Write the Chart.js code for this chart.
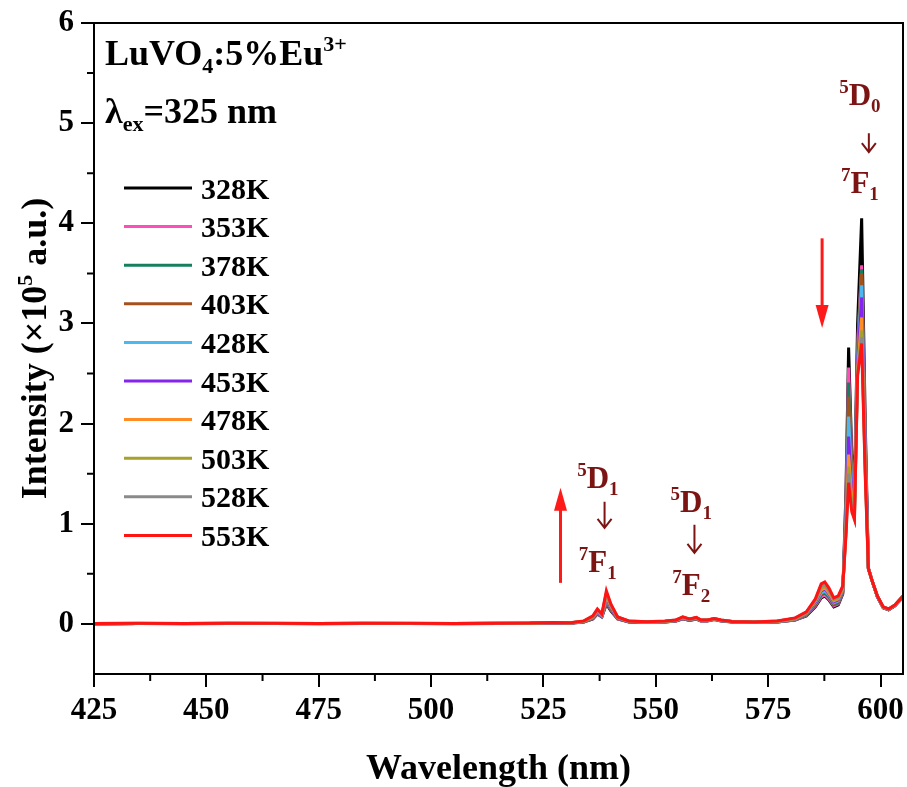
<!DOCTYPE html>
<html lang="en">
<head>
    <meta charset="UTF-8">
    <title>LuVO4:5%Eu3+ emission spectra</title>
    <style>
        body { margin: 0; padding: 0; background: #fff; }
        #chart { display: block; }
    </style>
</head>
<body>
    <canvas id="chart" width="907" height="787"></canvas>
    <script src="https://cdn.jsdelivr.net/npm/chart.js@4.4.1/dist/chart.umd.min.js"></script>
    <script>
        // wavelength grid (nm), shared by every temperature
        const wavelength = [425, 435, 445, 455, 465, 475, 485, 495, 505, 515,
            522, 527, 531, 534, 536, 537, 538, 539, 540, 541.5,
            544, 548, 552, 554.5, 556, 557.5, 559, 560, 561.5, 563,
            564.5, 567, 572, 577, 581, 583.5, 585.5, 586.8, 587.6, 588.5,
            589.6, 590.6, 591.6, 592.3, 592.9, 593.6, 594.2, 594.9, 595.8, 596.6,
            597.3, 598.2, 599.3, 600.6, 601.8, 603.2, 605];

        // intensity (x10^5 a.u.) per temperature
        const i328 = [0.000, 0.003, 0.002, 0.004, 0.003, 0.002, 0.004, 0.003, 0.002, 0.004,
            0.005, 0.008, 0.007, 0.018, 0.050, 0.100, 0.070, 0.200, 0.130, 0.050,
            0.020, 0.014, 0.018, 0.028, 0.050, 0.034, 0.048, 0.030, 0.030, 0.044,
            0.030, 0.018, 0.014, 0.018, 0.038, 0.080, 0.170, 0.260, 0.280, 0.240,
            0.170, 0.190, 0.300, 1.300, 2.760, 1.700, 1.350, 3.000, 4.050, 2.000,
            0.560, 0.420, 0.270, 0.160, 0.140, 0.180, 0.270];
        const i353 = [0.001, 0.003, 0.003, 0.004, 0.003, 0.003, 0.004, 0.003, 0.003, 0.004,
            0.005, 0.009, 0.008, 0.020, 0.055, 0.105, 0.072, 0.210, 0.140, 0.050,
            0.021, 0.015, 0.019, 0.030, 0.052, 0.036, 0.050, 0.032, 0.032, 0.046,
            0.032, 0.019, 0.015, 0.019, 0.040, 0.085, 0.180, 0.270, 0.290, 0.250,
            0.180, 0.200, 0.310, 1.220, 2.560, 1.620, 1.300, 2.800, 3.580, 1.900,
            0.560, 0.420, 0.270, 0.160, 0.140, 0.180, 0.270];
        const i378 = [0.001, 0.004, 0.003, 0.004, 0.004, 0.003, 0.004, 0.004, 0.003, 0.005,
            0.006, 0.010, 0.008, 0.021, 0.058, 0.110, 0.075, 0.220, 0.145, 0.055,
            0.022, 0.016, 0.020, 0.031, 0.054, 0.038, 0.052, 0.033, 0.033, 0.048,
            0.033, 0.020, 0.016, 0.020, 0.042, 0.090, 0.190, 0.290, 0.310, 0.270,
            0.190, 0.210, 0.320, 1.150, 2.410, 1.550, 1.250, 2.750, 3.540, 1.850,
            0.555, 0.420, 0.272, 0.162, 0.142, 0.182, 0.272];
        const i403 = [0.001, 0.004, 0.003, 0.005, 0.004, 0.003, 0.005, 0.004, 0.003, 0.005,
            0.006, 0.011, 0.009, 0.022, 0.060, 0.115, 0.078, 0.230, 0.150, 0.055,
            0.023, 0.017, 0.021, 0.032, 0.056, 0.040, 0.054, 0.034, 0.034, 0.049,
            0.034, 0.021, 0.017, 0.021, 0.044, 0.095, 0.200, 0.300, 0.320, 0.280,
            0.200, 0.220, 0.330, 1.100, 2.270, 1.480, 1.200, 2.700, 3.500, 1.800,
            0.555, 0.420, 0.274, 0.164, 0.144, 0.184, 0.274];
        const i428 = [0.002, 0.004, 0.004, 0.005, 0.004, 0.004, 0.005, 0.004, 0.004, 0.005,
            0.006, 0.012, 0.009, 0.024, 0.065, 0.120, 0.080, 0.245, 0.160, 0.060,
            0.024, 0.018, 0.022, 0.034, 0.058, 0.042, 0.056, 0.035, 0.035, 0.050,
            0.035, 0.022, 0.018, 0.022, 0.046, 0.100, 0.210, 0.310, 0.330, 0.290,
            0.210, 0.230, 0.340, 1.040, 2.070, 1.400, 1.170, 2.650, 3.380, 1.750,
            0.552, 0.420, 0.275, 0.165, 0.145, 0.185, 0.275];
        const i453 = [0.002, 0.005, 0.004, 0.005, 0.005, 0.004, 0.005, 0.005, 0.004, 0.006,
            0.007, 0.012, 0.010, 0.025, 0.068, 0.125, 0.083, 0.260, 0.165, 0.060,
            0.025, 0.019, 0.023, 0.035, 0.060, 0.044, 0.058, 0.036, 0.036, 0.051,
            0.036, 0.023, 0.018, 0.023, 0.048, 0.105, 0.220, 0.330, 0.350, 0.300,
            0.220, 0.240, 0.350, 0.980, 1.870, 1.330, 1.140, 2.600, 3.260, 1.700,
            0.552, 0.420, 0.276, 0.166, 0.146, 0.186, 0.276];
        const i478 = [0.002, 0.005, 0.004, 0.006, 0.005, 0.004, 0.006, 0.005, 0.004, 0.006,
            0.007, 0.013, 0.010, 0.026, 0.070, 0.130, 0.086, 0.275, 0.175, 0.065,
            0.026, 0.020, 0.024, 0.036, 0.062, 0.046, 0.060, 0.037, 0.037, 0.052,
            0.037, 0.024, 0.019, 0.024, 0.050, 0.110, 0.230, 0.340, 0.360, 0.310,
            0.230, 0.250, 0.350, 0.950, 1.690, 1.260, 1.110, 2.550, 3.060, 1.620,
            0.550, 0.420, 0.277, 0.167, 0.147, 0.187, 0.277];
        const i503 = [0.002, 0.005, 0.005, 0.006, 0.005, 0.005, 0.006, 0.005, 0.005, 0.006,
            0.007, 0.014, 0.011, 0.027, 0.073, 0.135, 0.090, 0.290, 0.180, 0.065,
            0.027, 0.020, 0.025, 0.037, 0.065, 0.047, 0.062, 0.038, 0.038, 0.053,
            0.038, 0.024, 0.019, 0.026, 0.054, 0.112, 0.235, 0.360, 0.380, 0.330,
            0.240, 0.260, 0.360, 0.920, 1.570, 1.200, 1.090, 2.520, 2.930, 1.560,
            0.550, 0.420, 0.278, 0.168, 0.148, 0.188, 0.278];
        const i528 = [0.003, 0.006, 0.005, 0.006, 0.006, 0.005, 0.006, 0.006, 0.005, 0.007,
            0.008, 0.014, 0.011, 0.028, 0.076, 0.140, 0.095, 0.310, 0.190, 0.070,
            0.028, 0.021, 0.027, 0.038, 0.067, 0.048, 0.063, 0.039, 0.039, 0.054,
            0.039, 0.025, 0.020, 0.028, 0.057, 0.115, 0.240, 0.380, 0.400, 0.340,
            0.250, 0.270, 0.370, 0.900, 1.500, 1.160, 1.060, 2.500, 2.860, 1.520,
            0.550, 0.420, 0.279, 0.169, 0.149, 0.189, 0.279];
        const i553 = [0.003, 0.006, 0.005, 0.007, 0.006, 0.005, 0.007, 0.006, 0.005, 0.007,
            0.008, 0.015, 0.012, 0.030, 0.080, 0.150, 0.100, 0.330, 0.200, 0.070,
            0.030, 0.022, 0.030, 0.040, 0.070, 0.050, 0.065, 0.040, 0.040, 0.055,
            0.040, 0.025, 0.020, 0.030, 0.060, 0.120, 0.250, 0.400, 0.420, 0.360,
            0.260, 0.280, 0.380, 0.880, 1.410, 1.120, 1.040, 2.480, 2.800, 1.480,
            0.550, 0.420, 0.280, 0.170, 0.150, 0.190, 0.280];

        const temps = ['328K', '353K', '378K', '403K', '428K', '453K', '478K', '503K', '528K', '553K'];
        const series = [i328, i353, i378, i403, i428, i453, i478, i503, i528, i553];
        const lineColors = ['#000000', '#ff4db8', '#14805e', '#a4521c', '#4db8f0',
            '#8424ee', '#ff8c24', '#a8a02c', '#8a8a8a', '#ff1414'];

        const xMajor = [425, 450, 475, 500, 525, 550, 575, 600];
        const xMinor = [437.5, 462.5, 487.5, 512.5, 537.5, 562.5, 587.5];
        const yMajor = [0, 1, 2, 3, 4, 5, 6];
        const yMinor = [0.5, 1.5, 2.5, 3.5, 4.5, 5.5];

        // transition labels: upper level, arrow, lower level (data coordinates)
        const transX = [537.1, 557.9, 595.4];
        const transUpper = [
            [['5', 'sup'], ['D', 'n'], ['1', 'sub']],
            [['5', 'sup'], ['D', 'n'], ['1', 'sub']],
            [['5', 'sup'], ['D', 'n'], ['0', 'sub']]
        ];
        const transLower = [
            [['7', 'sup'], ['F', 'n'], ['1', 'sub']],
            [['7', 'sup'], ['F', 'n'], ['2', 'sub']],
            [['7', 'sup'], ['F', 'n'], ['1', 'sub']]
        ];
        const transUpperY = [1.36, 1.12, 5.18];
        const transLowerY = [0.52, 0.29, 4.30];
        const transArrowX = [538.6, 558.6, 597.4];
        const transArrowTop = [1.22, 0.99, 4.90];
        const transArrowBottom = [0.96, 0.71, 4.71];

        // red trend arrows
        const trendX = [528.8, 587.0];
        const trendFrom = [0.41, 3.85];
        const trendTo = [1.36, 2.955];

        const FONT = '"Liberation Serif", "Times New Roman", serif';
        const DARKRED = '#7c1414';

        function fontFor(kind, size) {
            const s = kind === 'n' ? size : Math.round(size * 0.62);
            return 'bold ' + s + 'px ' + FONT;
        }

        function drawRich(ctx, segs, x, y, size, align) {
            let w = 0;
            segs.forEach(([t, k]) => { ctx.font = fontFor(k, size); w += ctx.measureText(t).width; });
            let cx = align === 'center' ? x - w / 2 : x;
            ctx.textAlign = 'left';
            ctx.textBaseline = 'alphabetic';
            segs.forEach(([t, k]) => {
                ctx.font = fontFor(k, size);
                const dy = k === 'sup' ? -0.38 * size : (k === 'sub' ? 0.22 * size : 0);
                ctx.fillText(t, cx, y + dy);
                cx += ctx.measureText(t).width;
            });
        }

        function drawArrowDown(ctx, x, y1, y2, color) {
            ctx.strokeStyle = color;
            ctx.lineWidth = 2;
            ctx.beginPath();
            ctx.moveTo(x, y1);
            ctx.lineTo(x, y2);
            ctx.moveTo(x - 7, y2 - 9);
            ctx.lineTo(x, y2);
            ctx.lineTo(x + 7, y2 - 9);
            ctx.stroke();
        }

        function drawTrendArrow(ctx, x, yFrom, yTo) {
            const dir = yTo < yFrom ? 1 : -1; // 1 = pointing up on screen
            const head = 23;
            ctx.strokeStyle = '#ff1a1a';
            ctx.fillStyle = '#ff1a1a';
            ctx.lineWidth = 3;
            ctx.beginPath();
            ctx.moveTo(x, yFrom);
            ctx.lineTo(x, yTo + dir * head * 0.8);
            ctx.stroke();
            ctx.beginPath();
            ctx.moveTo(x, yTo);
            ctx.lineTo(x - 6.5, yTo + dir * head);
            ctx.lineTo(x + 6.5, yTo + dir * head);
            ctx.closePath();
            ctx.fill();
        }

        const decorations = {
            id: 'decorations',
            afterDraw(chart) {
                const ctx = chart.ctx;
                const xs = chart.scales.x;
                const ys = chart.scales.y;
                const area = chart.chartArea;
                ctx.save();

                // frame
                ctx.strokeStyle = '#000';
                ctx.lineWidth = 2;
                ctx.strokeRect(area.left, area.top, area.right - area.left, area.bottom - area.top);

                // minor ticks
                ctx.beginPath();
                xMinor.forEach(v => {
                    const px = xs.getPixelForValue(v);
                    ctx.moveTo(px, area.bottom);
                    ctx.lineTo(px, area.bottom + 7);
                });
                yMinor.forEach(v => {
                    const py = ys.getPixelForValue(v);
                    ctx.moveTo(area.left, py);
                    ctx.lineTo(area.left - 7, py);
                });
                ctx.stroke();

                // axis titles
                ctx.fillStyle = '#000';
                ctx.font = 'bold 36px ' + FONT;
                ctx.textAlign = 'center';
                ctx.textBaseline = 'alphabetic';
                ctx.fillText('Wavelength (nm)', (area.left + area.right) / 2, 779);

                ctx.save();
                ctx.translate(46, (area.top + area.bottom) / 2);
                ctx.rotate(-Math.PI / 2);
                drawRich(ctx, [['Intensity (\u00d710', 'n'], ['5', 'sup'], [' a.u.)', 'n']], 0, 0, 36, 'center');
                ctx.restore();

                // sample info
                drawRich(ctx, [['LuVO', 'n'], ['4', 'sub'], [':5%Eu', 'n'], ['3+', 'sup']], 105, 65, 36, 'left');
                drawRich(ctx, [['\u03bb', 'n'], ['ex', 'sub'], ['=325 nm', 'n']], 105, 123, 36, 'left');

                // legend
                chart.data.datasets.forEach((ds, i) => {
                    const y = 188 + i * 38.6;
                    ctx.strokeStyle = ds.borderColor;
                    ctx.lineWidth = 3;
                    ctx.beginPath();
                    ctx.moveTo(124, y);
                    ctx.lineTo(192, y);
                    ctx.stroke();
                    ctx.fillStyle = '#000';
                    ctx.font = 'bold 30px ' + FONT;
                    ctx.textAlign = 'left';
                    ctx.textBaseline = 'alphabetic';
                    ctx.fillText(ds.label, 201, y + 10.5);
                });

                // transition labels
                ctx.fillStyle = DARKRED;
                transX.forEach((v, i) => {
                    const px = xs.getPixelForValue(v);
                    drawRich(ctx, transUpper[i], px, ys.getPixelForValue(transUpperY[i]), 31, 'center');
                    drawRich(ctx, transLower[i], px, ys.getPixelForValue(transLowerY[i]), 31, 'center');
                    drawArrowDown(ctx, xs.getPixelForValue(transArrowX[i]),
                        ys.getPixelForValue(transArrowTop[i]), ys.getPixelForValue(transArrowBottom[i]), DARKRED);
                });

                // trend arrows
                trendX.forEach((v, i) => {
                    drawTrendArrow(ctx, xs.getPixelForValue(v), ys.getPixelForValue(trendFrom[i]), ys.getPixelForValue(trendTo[i]));
                });

                ctx.restore();
            }
        };

        const datasets = series.map((arr, i) => ({
            label: temps[i],
            data: wavelength.map((w, k) => ({ x: w, y: arr[k] })),
            borderColor: lineColors[i],
            borderWidth: 3,
            pointRadius: 0,
            tension: 0,
            fill: false,
            order: series.length - 1 - i
        }));

        const tickFont = { family: FONT, size: 31, weight: 'bold' };

        new Chart(document.getElementById('chart'), {
            type: 'line',
            data: { datasets: datasets },
            options: {
                responsive: false,
                animation: false,
                layout: { padding: { top: 23, right: 4, left: 0, bottom: 0 } },
                plugins: {
                    legend: { display: false },
                    tooltip: { enabled: false }
                },
                scales: {
                    x: {
                        type: 'linear',
                        min: 425,
                        max: 605,
                        afterBuildTicks: s => { s.ticks = xMajor.map(v => ({ value: v })); },
                        afterFit: s => { s.height = 113; s.paddingLeft = 0; s.paddingRight = 0; },
                        grid: { drawOnChartArea: false, tickLength: 13, lineWidth: 2, color: '#000' },
                        border: { display: false },
                        ticks: { font: tickFont, color: '#000', padding: 5, maxRotation: 0, autoSkip: false }
                    },
                    y: {
                        min: -0.5,
                        max: 6,
                        afterBuildTicks: s => { s.ticks = yMajor.map(v => ({ value: v })); },
                        afterFit: s => { s.width = 94; s.paddingTop = 0; s.paddingBottom = 0; },
                        grid: { drawOnChartArea: false, tickLength: 13, lineWidth: 2, color: '#000' },
                        border: { display: false },
                        ticks: { font: tickFont, color: '#000', padding: 7 }
                    }
                }
            },
            plugins: [decorations]
        });
    </script>
</body>
</html>
